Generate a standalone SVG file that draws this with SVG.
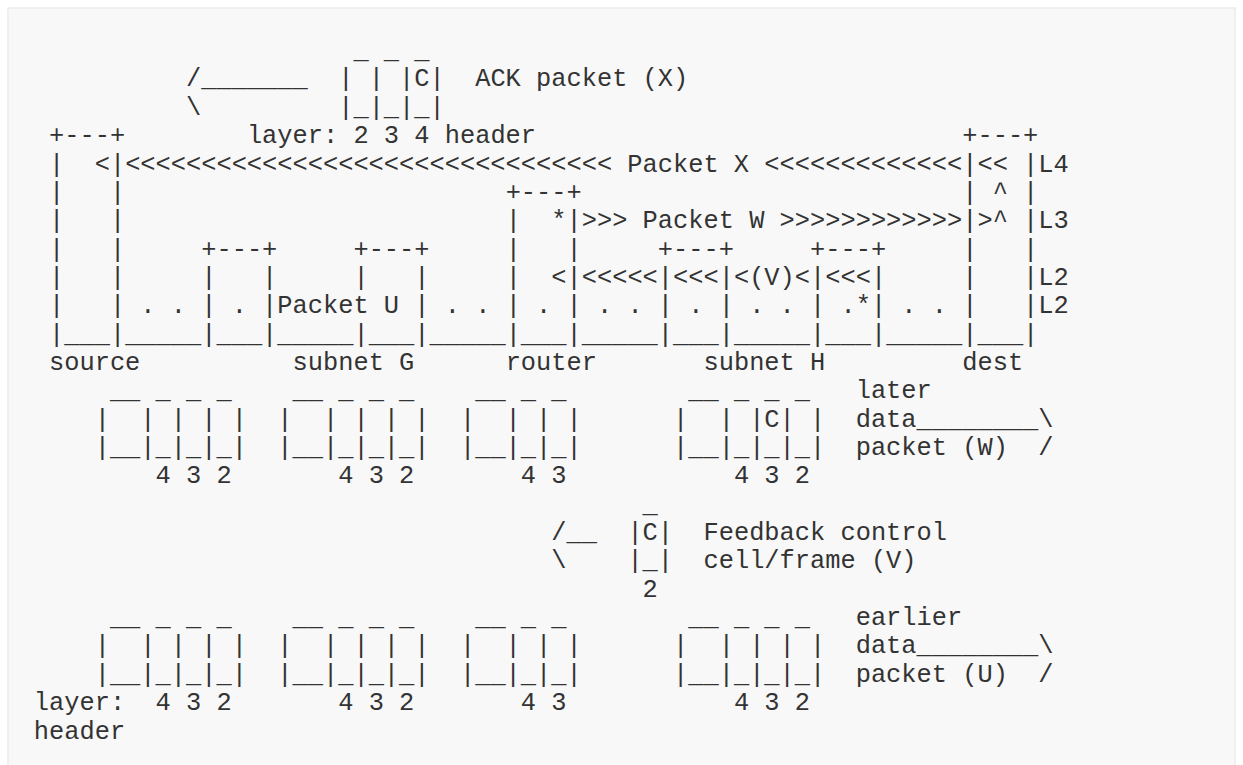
<svg xmlns="http://www.w3.org/2000/svg" width="1243" height="765" viewBox="0 0 1243 765" xml:space="preserve">
<style>
text { font-family: "Liberation Mono", "DejaVu Sans Mono", monospace; font-size: 25.37px; fill: #333333; white-space: pre; }
.panel { fill: #f8f8f8; stroke: #ebebeb; stroke-width: 1.5; }
</style>
<rect class="panel" x="8" y="8" width="1227" height="790"/>

<g id="ack-packet-x">
<text x="353.44" y="58.1">_ _ _</text>
<text x="186.02" y="86.45">/_______</text>
<text x="338.22" y="86.45">| | |C|</text>
<text x="475.2" y="86.45">ACK packet (X)</text>
<text x="186.02" y="114.8">\</text>
<text x="338.22" y="114.8">|_|_|_|</text>
<text x="246.9" y="143.15">layer: 2 3 4 header</text>
</g>

<g id="node-source">
<text x="49.04" y="143.15">+---+</text>
<text x="49.04" y="171.5">|</text><text x="109.92" y="171.5">|</text>
<text x="49.04" y="199.85">|</text><text x="109.92" y="199.85">|</text>
<text x="49.04" y="228.2">|</text><text x="109.92" y="228.2">|</text>
<text x="49.04" y="256.55">|</text><text x="109.92" y="256.55">|</text>
<text x="49.04" y="284.9">|</text><text x="109.92" y="284.9">|</text>
<text x="49.04" y="313.25">|</text><text x="109.92" y="313.25">|</text>
<text x="49.04" y="341.6">|___|</text>
<text x="49.04" y="369.95">source</text>
</g>

<g id="node-subnet-g">
<text x="201.24" y="256.55">+---+</text><text x="353.44" y="256.55">+---+</text>
<text x="201.24" y="284.9">|</text><text x="262.12" y="284.9">|</text><text x="353.44" y="284.9">|</text><text x="414.32" y="284.9">|</text>
<text x="201.24" y="313.25">|</text><text x="262.12" y="313.25">|</text><text x="414.32" y="313.25">|</text>
<text x="201.24" y="341.6">|___|</text><text x="353.44" y="341.6">|___|</text>
<text x="292.56" y="369.95">subnet G</text>
</g>

<g id="node-router">
<text x="505.64" y="199.85">+---+</text>
<text x="505.64" y="228.2">|</text><text x="566.52" y="228.2">|</text>
<text x="505.64" y="256.55">|</text><text x="566.52" y="256.55">|</text>
<text x="505.64" y="284.9">|</text><text x="566.52" y="284.9">|</text>
<text x="505.64" y="313.25">|</text><text x="566.52" y="313.25">|</text>
<text x="505.64" y="341.6">|___|</text>
<text x="505.64" y="369.95">router</text>
</g>

<g id="node-subnet-h">
<text x="657.84" y="256.55">+---+</text><text x="810.04" y="256.55">+---+</text>
<text x="657.84" y="284.9">|</text><text x="718.72" y="284.9">|</text><text x="810.04" y="284.9">|</text><text x="870.92" y="284.9">|</text>
<text x="657.84" y="313.25">|</text><text x="718.72" y="313.25">|</text><text x="810.04" y="313.25">|</text><text x="870.92" y="313.25">|</text>
<text x="657.84" y="341.6">|___|</text><text x="810.04" y="341.6">|___|</text>
<text x="703.5" y="369.95">subnet H</text>
</g>

<g id="node-dest">
<text x="962.24" y="143.15">+---+</text>
<text x="962.24" y="171.5">|</text><text x="1023.12" y="171.5">|</text><text x="1038.34" y="171.5">L4</text>
<text x="962.24" y="199.85">|</text><text x="1023.12" y="199.85">|</text>
<text x="962.24" y="228.2">|</text><text x="1023.12" y="228.2">|</text><text x="1038.34" y="228.2">L3</text>
<text x="962.24" y="256.55">|</text><text x="1023.12" y="256.55">|</text>
<text x="962.24" y="284.9">|</text><text x="1023.12" y="284.9">|</text><text x="1038.34" y="284.9">L2</text>
<text x="962.24" y="313.25">|</text><text x="1023.12" y="313.25">|</text><text x="1038.34" y="313.25">L2</text>
<text x="962.24" y="341.6">|___|</text>
<text x="962.24" y="369.95">dest</text>
</g>

<g id="connectors">
<text x="94.7" y="171.5">&lt;</text>
<text x="125.14" y="171.5">&lt;&lt;&lt;&lt;&lt;&lt;&lt;&lt;&lt;&lt;&lt;&lt;&lt;&lt;&lt;&lt;&lt;&lt;&lt;&lt;&lt;&lt;&lt;&lt;&lt;&lt;&lt;&lt;&lt;&lt;&lt;&lt; Packet X &lt;&lt;&lt;&lt;&lt;&lt;&lt;&lt;&lt;&lt;&lt;&lt;&lt;</text>
<text x="977.46" y="171.5">&lt;&lt;</text>
<text x="992.68" y="199.85">^</text>
<text x="551.3" y="228.2">*</text>
<text x="581.74" y="228.2">&gt;&gt;&gt; Packet W &gt;&gt;&gt;&gt;&gt;&gt;&gt;&gt;&gt;&gt;&gt;&gt;</text>
<text x="977.46" y="228.2">&gt;^</text>
<text x="551.3" y="284.9">&lt;</text>
<text x="581.74" y="284.9">&lt;&lt;&lt;&lt;&lt;</text>
<text x="673.06" y="284.9">&lt;&lt;&lt;</text>
<text x="733.94" y="284.9">&lt;(V)&lt;</text>
<text x="825.26" y="284.9">&lt;&lt;&lt;</text>
<text x="140.36" y="313.25">. .</text>
<text x="231.68" y="313.25">.</text>
<text x="277.34" y="313.25">Packet U</text>
<text x="444.76" y="313.25">. .</text>
<text x="536.08" y="313.25">.</text>
<text x="596.96" y="313.25">. .</text>
<text x="688.28" y="313.25">.</text>
<text x="749.16" y="313.25">. .</text>
<text x="840.48" y="313.25">.*</text>
<text x="901.36" y="313.25">. .</text>
<text x="125.14" y="341.6">_____</text>
<text x="277.34" y="341.6">_____</text>
<text x="429.54" y="341.6">_____</text>
<text x="581.74" y="341.6">_____</text>
<text x="733.94" y="341.6">_____</text>
<text x="886.14" y="341.6">_____</text>
</g>

<g id="later-packets-w">
<text x="109.92" y="398.3">__ _ _ _</text>
<text x="94.7" y="426.65">|  | | | |</text>
<text x="94.7" y="455">|__|_|_|_|</text>
<text x="155.58" y="483.35">4 3 2</text>
<text x="292.56" y="398.3">__ _ _ _</text>
<text x="277.34" y="426.65">|  | | | |</text>
<text x="277.34" y="455">|__|_|_|_|</text>
<text x="338.22" y="483.35">4 3 2</text>
<text x="475.2" y="398.3">__ _ _</text>
<text x="459.98" y="426.65">|  | | |</text>
<text x="459.98" y="455">|__|_|_|</text>
<text x="520.86" y="483.35">4 3</text>
<text x="688.28" y="398.3">__ _ _ _</text>
<text x="673.06" y="426.65">|  | |C| |</text>
<text x="673.06" y="455">|__|_|_|_|</text>
<text x="733.94" y="483.35">4 3 2</text>
<text x="855.7" y="398.3">later</text>
<text x="855.7" y="426.65">data________\</text>
<text x="855.7" y="455">packet (W)  /</text>
</g>

<g id="feedback-v">
<text x="642.62" y="511.7">_</text>
<text x="551.3" y="540.05">/__</text>
<text x="627.4" y="540.05">|C|</text>
<text x="703.5" y="540.05">Feedback control</text>
<text x="551.3" y="568.4">\</text>
<text x="627.4" y="568.4">|_|</text>
<text x="703.5" y="568.4">cell/frame (V)</text>
<text x="642.62" y="596.75">2</text>
</g>

<g id="earlier-packets-u">
<text x="109.92" y="625.1">__ _ _ _</text>
<text x="94.7" y="653.45">|  | | | |</text>
<text x="94.7" y="681.8">|__|_|_|_|</text>
<text x="155.58" y="710.15">4 3 2</text>
<text x="292.56" y="625.1">__ _ _ _</text>
<text x="277.34" y="653.45">|  | | | |</text>
<text x="277.34" y="681.8">|__|_|_|_|</text>
<text x="338.22" y="710.15">4 3 2</text>
<text x="475.2" y="625.1">__ _ _</text>
<text x="459.98" y="653.45">|  | | |</text>
<text x="459.98" y="681.8">|__|_|_|</text>
<text x="520.86" y="710.15">4 3</text>
<text x="688.28" y="625.1">__ _ _ _</text>
<text x="673.06" y="653.45">|  | | | |</text>
<text x="673.06" y="681.8">|__|_|_|_|</text>
<text x="733.94" y="710.15">4 3 2</text>
<text x="855.7" y="625.1">earlier</text>
<text x="855.7" y="653.45">data________\</text>
<text x="855.7" y="681.8">packet (U)  /</text>
</g>

<g id="layer-header-label">
<text x="33.82" y="710.15">layer:</text>
<text x="33.82" y="738.5">header</text>
</g>
</svg>
